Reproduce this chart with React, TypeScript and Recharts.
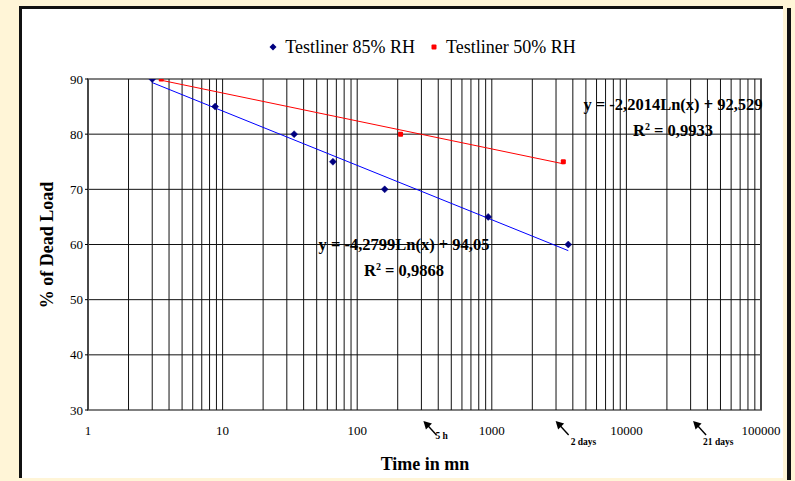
import React from 'react';
import { ComposedChart, Scatter, XAxis, YAxis, CartesianGrid, ReferenceLine, ReferenceArea, ReferenceDot } from 'recharts';

// Data
const rh85X = [3, 8.8, 34, 66, 160, 940, 3700];
const rh85Y = [90, 85, 80, 75, 70, 65, 60];
const rh50X = [3.5, 210, 3400];
const rh50Y = [90, 80, 75];
const trend85 = { a: -4.2799, b: 94.05, eq: 'y = -4,2799Ln(x) + 94,05', r2: '0,9868' };
const trend50 = { a: -2.2014, b: 92.529, eq: 'y = -2,2014Ln(x) + 92,529', r2: '0,9933' };
const xTicks = [1, 10, 100, 1000, 10000, 100000];
const yTicks = [30, 40, 50, 60, 70, 80, 90];
const marks = [
  { x: 300, label: '5 h' },
  { x: 2880, label: '2 days' },
  { x: 30240, label: '21 days' },
];
const seriesNames = ['Testliner 85% RH', 'Testliner 50% RH'];

const minorTicks: number[] = [];
for (let d = 1; d < 100000; d *= 10) {
  for (let k = 1; k <= 9; k++) minorTicks.push(k * d);
}
minorTicks.push(100000);

const pts85 = rh85X.map((x, i) => ({ x, y: rh85Y[i] }));
const pts50 = rh50X.map((x, i) => ({ x, y: rh50Y[i] }));
const trendPts = (xs: number[], t: { a: number; b: number }) => {
  const lo = xs[0];
  const hi = xs[xs.length - 1];
  return [lo, hi].map((x) => ({ x, y: t.a * Math.log(x) + t.b }));
};
const tr85 = trendPts(rh85X, trend85);
const tr50 = trendPts(rh50X, trend50);

const FONT = '"Liberation Serif", "Times New Roman", serif';
const NAVY = '#000080';
const RED = '#FF0000';

const Diamond = (p: any) => {
  const { cx, cy } = p;
  if (cx == null || cy == null) return <g />;
  const s = 3.5;
  return <polygon points={`${cx},${cy - s} ${cx + s},${cy} ${cx},${cy + s} ${cx - s},${cy}`} fill={NAVY} stroke={NAVY} strokeWidth={0.5} />;
};
const Square = (p: any) => {
  const { cx, cy } = p;
  if (cx == null || cy == null) return <g />;
  return <rect x={cx - 2.5} y={cy - 2.5} width={5} height={5} rx={1} fill={RED} />;
};
const Empty = () => <g />;

const labelOffsets = [
  { dx: 14, dy: 29 },
  { dx: 17, dy: 35 },
  { dx: 12, dy: 35 },
];

const makeArrow = (i: number, label: string) => (p: any) => {
  const { cx, cy } = p;
  if (cx == null || cy == null) return <g />;
  const hx = cx + 2;
  const hy = cy + 11;
  const tx = hx + 13;
  const ty = hy + 14;
  const o = labelOffsets[i];
  return (
    <g>
      <line x1={tx} y1={ty} x2={hx + 3} y2={hy + 3} stroke="#000" strokeWidth={1.4} />
      <polygon points={`${hx},${hy} ${hx + 8.5},${hy + 2.5} ${hx + 2.5},${hy + 8.5}`} fill="#000" />
      <text x={cx + o.dx} y={cy + o.dy} fontFamily={FONT} fontSize={9.5} fontWeight="bold" fill="#000">{label}</text>
    </g>
  );
};

export default function App() {
  return (
    <div style={{ position: 'absolute', left: 0, top: 0, width: 795, height: 481, background: '#FFF5D7', overflow: 'hidden', fontFamily: FONT }}>
      <div style={{ position: 'absolute', left: 19, top: 6, width: 761, height: 469, background: '#fff', borderLeft: '3px solid #111', borderTop: '3px solid #111' }} />
      <div style={{ position: 'absolute', left: 787, top: 8, width: 4, height: 472, background: '#111' }} />
      <div style={{ position: 'absolute', left: 0, top: 0 }}>
        <ComposedChart width={795} height={481} margin={{ top: 79, right: 34, bottom: 41, left: 28 }}>
          <XAxis
            type="number"
            dataKey="x"
            scale="log"
            domain={[1, 100000]}
            ticks={xTicks}
            allowDataOverflow
            axisLine={false}
            tickLine={false}
            height={30}
            tick={{ fontFamily: FONT, fontSize: 13, fill: '#000' }}
            tickMargin={10}
          />
          <YAxis
            type="number"
            dataKey="y"
            domain={[30, 90]}
            ticks={yTicks}
            allowDataOverflow
            axisLine={false}
            tickLine={{ stroke: '#000' }}
            tickSize={3}
            width={60}
            tick={{ fontFamily: FONT, fontSize: 13, fill: '#000' }}
          />
          <CartesianGrid vertical={false} stroke="#111" strokeWidth={1} />
          {minorTicks.map((v) => (
            <ReferenceLine key={v} x={v} stroke="#111" strokeWidth={1} />
          ))}
          <ReferenceArea x1={1} x2={100000} y1={30} y2={90} fill="none" fillOpacity={0} stroke="#808080" strokeWidth={2} />
          <Scatter name="trend85" data={tr85} line={{ stroke: '#0000FF', strokeWidth: 1 }} shape={Empty} isAnimationActive={false} />
          <Scatter name="trend50" data={tr50} line={{ stroke: RED, strokeWidth: 1 }} shape={Empty} isAnimationActive={false} />
          <Scatter name={seriesNames[0]} data={pts85} shape={Diamond} isAnimationActive={false} />
          <Scatter name={seriesNames[1]} data={pts50} shape={Square} isAnimationActive={false} />
          {marks.map((m, i) => (
            <ReferenceDot key={m.label} x={m.x} y={30} ifOverflow="visible" shape={makeArrow(i, m.label)} />
          ))}
        </ComposedChart>
      </div>
      {/* Legend */}
      <div style={{ position: 'absolute', left: 0, top: 36, width: 844, textAlign: 'center', fontSize: 18, color: '#000', whiteSpace: 'nowrap' }}>
        <span style={{ display: 'inline-flex', alignItems: 'center' }}>
          <svg width={10} height={10} style={{ marginRight: 7 }}><polygon points="5,1.5 8.5,5 5,8.5 1.5,5" fill={NAVY} /></svg>
          {seriesNames[0]}
        </span>
        <span style={{ display: 'inline-flex', alignItems: 'center', marginLeft: 14 }}>
          <svg width={10} height={10} style={{ marginRight: 7 }}><rect x={2.5} y={2.5} width={5} height={5} rx={1} fill={RED} /></svg>
          {seriesNames[1]}
        </span>
      </div>
      {/* Trend equations */}
      <div style={{ position: 'absolute', left: 573, top: 92, width: 200, textAlign: 'center', fontSize: 16.5, fontWeight: 'bold', lineHeight: '26px', whiteSpace: 'nowrap' }}>
        <div>{trend50.eq}</div>
        <div>R<sup style={{ fontSize: 10, verticalAlign: 'top', position: 'relative', top: -4 }}>2</sup> = {trend50.r2}</div>
      </div>
      <div style={{ position: 'absolute', left: 304, top: 232, width: 200, textAlign: 'center', fontSize: 16.5, fontWeight: 'bold', lineHeight: '26px', whiteSpace: 'nowrap' }}>
        <div>{trend85.eq}</div>
        <div>R<sup style={{ fontSize: 10, verticalAlign: 'top', position: 'relative', top: -4 }}>2</sup> = {trend85.r2}</div>
      </div>
      {/* Axis titles */}
      <div style={{ position: 'absolute', left: 325, top: 454, width: 200, textAlign: 'center', fontSize: 18, fontWeight: 'bold', whiteSpace: 'nowrap' }}>Time in mn</div>
      <div style={{ position: 'absolute', left: 47, top: 245, width: 0, height: 0 }}>
        <div style={{ position: 'absolute', left: -100, top: -11, width: 200, textAlign: 'center', fontSize: 18, fontWeight: 'bold', whiteSpace: 'nowrap', transform: 'rotate(-90deg)', lineHeight: '22px' }}>% of Dead Load</div>
      </div>
    </div>
  );
}
